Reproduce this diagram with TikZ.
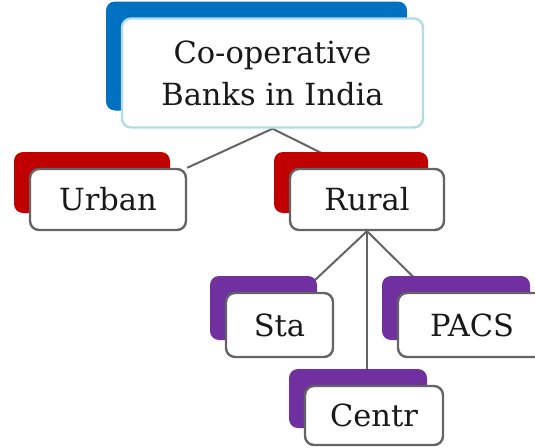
\documentclass[tikz,border=0pt]{standalone}
\usepackage{fontspec}
\setmainfont{DejaVu Serif}
\usepackage{xcolor}
\usetikzlibrary{calc, positioning, shadows, backgrounds}

\definecolor{bankblue}{RGB}{0,112,192}
\definecolor{bankred}{RGB}{192,0,0}
\definecolor{bankpurple}{RGB}{112,48,160}
\definecolor{edgeblue}{RGB}{176,220,232}
\definecolor{edgegray}{RGB}{100,100,100}

\begin{document}
\begin{tikzpicture}[x=1pt, y=-1pt,
    box/.style={draw=edgegray, line width=2.4pt, rounded corners=9pt, fill=white,
        text=black!90, font=\fontsize{30.5}{42}\selectfont, align=center, inner sep=0pt},
    backing/.style={general shadow={fill=#1, shadow xshift=-16pt, shadow yshift=17pt}},
    link/.style={draw=edgegray, line width=2pt}]
\useasboundingbox (0,0) rectangle (535,447);
% Nodes
\node[box, backing=bankblue, draw=edgeblue, minimum width=301pt, minimum height=109pt] (banks) at (272.5,73) {Co-operative\\Banks in India};
\node[box, backing=bankred, minimum width=156pt, minimum height=61pt] (urban) at (108,199.5) {Urban};
\node[box, backing=bankred, minimum width=154pt, minimum height=61pt] (rural) at (367,199.5) {Rural};
\node[box, backing=bankpurple, minimum width=107pt, minimum height=64pt] (sta) at (279.5,325) {Sta};
\node[box, backing=bankpurple, minimum width=148pt, minimum height=64pt] (pacs) at (472,325) {PACS};
\node[box, backing=bankpurple, minimum width=138pt, minimum height=59pt] (centr) at (374,415.5) {Centr};

% Connectors
\begin{scope}[on background layer]
\draw[link] (banks.south) -- (urban.north east);
\draw[link] (banks.south) -- ($(rural.north west)!0.4!(rural.north east)$);
\draw[link] (rural.south) -- ($(sta.north west)!0.71!(sta.north east)$);
\draw[link] (rural.south) -- ($(pacs.north west)!0.21!(pacs.north east)$);
\draw[link] (rural.south) -- (rural.south |- centr.north);
\end{scope}
\end{tikzpicture}
\end{document}
